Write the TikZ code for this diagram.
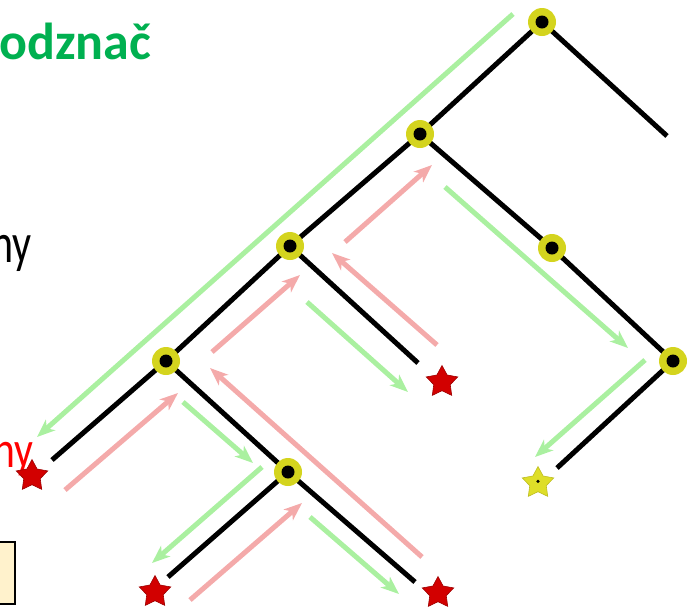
\documentclass[tikz,border=0pt]{standalone}
\usepackage{fontspec}
\setmainfont{Carlito}
\usetikzlibrary{shapes.geometric,arrows.meta}
\definecolor{txtgreen}{RGB}{0,176,80}
\definecolor{argreen}{RGB}{170,240,160}
\definecolor{arpink}{RGB}{244,170,170}
\definecolor{halo}{RGB}{212,212,30}
\definecolor{starred}{RGB}{210,0,0}
\definecolor{staryel}{RGB}{222,222,40}
\definecolor{boxfill}{RGB}{255,242,204}
\begin{document}
\begin{tikzpicture}[x=1pt,y=-1pt,
  tnode/.style={circle, fill=halo, minimum size=28pt, inner sep=0pt,
    path picture={\fill[black] (path picture bounding box.center) circle (6.5pt);}},
  redleaf/.style={star, star points=5, star point ratio=1.9, fill=starred,
    draw=starred!75!black, line width=0.6pt, minimum size=33pt, inner sep=0pt},
  yelleaf/.style={star, star points=5, star point ratio=1.9, fill=staryel,
    draw=staryel!85!black, line width=0.6pt, minimum size=33pt, inner sep=0pt,
    path picture={\fill[black] (path picture bounding box.center) circle (1.8pt);}},
  edge/.style={line width=5pt, black},
  garrow/.style={line width=5pt, argreen, -{Stealth[length=18pt,width=14pt,inset=5pt]}},
  parrow/.style={line width=5pt, arpink, -{Stealth[length=18pt,width=14pt,inset=5pt]}},
  label/.style={inner sep=0pt}
]
\useasboundingbox (0,0) rectangle (687,606);
\clip (0,0) rectangle (687,606);

% texts
\node[label, anchor=base west, text=txtgreen, font=\fontsize{52}{60}\selectfont\bfseries] (t1) at (-1,59) {odznač};
\node[label, anchor=base east, font=\fontsize{56}{64}\selectfont] (t2) at (32,262) {\scalebox{0.75}[1]{ny}};
\node[label, anchor=base east, text=red, font=\fontsize{52}{60}\selectfont] (t3) at (34,467) {\scalebox{0.8}[1]{ny}};
\node[draw=black, fill=boxfill, line width=1.3pt, minimum width=40pt, minimum height=62pt, inner sep=0pt] (box) at (-5,573) {};

% tree positions
\coordinate (Ap) at (542,22);
\coordinate (Bp) at (420,134);
\coordinate (Cp) at (290,246);
\coordinate (Dp) at (552,248);
\coordinate (Ep) at (166,361);
\coordinate (Fp) at (673,361);
\coordinate (Gp) at (288,472);
\coordinate (Aend) at (667,136);
\coordinate (Cend) at (418,363);
\coordinate (Eend) at (52,460);
\coordinate (G1end) at (168,577);
\coordinate (G2end) at (415,582);
\coordinate (Fend) at (557,468);

% edges
\draw[edge] (Ap) -- (Bp);
\draw[edge] (Ap) -- (Aend);
\draw[edge] (Bp) -- (Cp);
\draw[edge] (Bp) -- (Dp);
\draw[edge] (Cp) -- (Ep);
\draw[edge] (Cp) -- (Cend);
\draw[edge] (Ep) -- (Eend);
\draw[edge] (Ep) -- (Gp);
\draw[edge] (Gp) -- (G1end);
\draw[edge] (Gp) -- (G2end);
\draw[edge] (Dp) -- (Fp);
\draw[edge] (Fp) -- (Fend);

% nodes
\node[tnode] (A) at (Ap) {};
\node[tnode] (B) at (Bp) {};
\node[tnode] (C) at (Cp) {};
\node[tnode] (D) at (Dp) {};
\node[tnode] (E) at (Ep) {};
\node[tnode] (F) at (Fp) {};
\node[tnode] (G) at (Gp) {};
\node[redleaf] (Cs) at (442,382) {};
\node[redleaf] (Es) at (32,476) {};
\node[redleaf] (Gs1) at (155,592) {};
\node[redleaf] (Gs2) at (438,593) {};
\node[yelleaf] (Fs) at (538,483) {};

% green arrows
\coordinate (g1a) at (513,14);  \coordinate (g1b) at (37,437);
\coordinate (g2a) at (445,187); \coordinate (g2b) at (628,348);
\coordinate (g3a) at (645,360); \coordinate (g3b) at (535,457);
\coordinate (g4a) at (307,302); \coordinate (g4b) at (408,392);
\coordinate (g5a) at (183,402); \coordinate (g5b) at (253,463);
\coordinate (g6a) at (262,467); \coordinate (g6b) at (152,563);
\coordinate (g7a) at (310,517); \coordinate (g7b) at (399,594);
\draw[garrow] (g1a) -- (g1b);
\draw[garrow] (g2a) -- (g2b);
\draw[garrow] (g3a) -- (g3b);
\draw[garrow] (g4a) -- (g4b);
\draw[garrow] (g5a) -- (g5b);
\draw[garrow] (g6a) -- (g6b);
\draw[garrow] (g7a) -- (g7b);

% pink arrows
\coordinate (r1a) at (65,490);  \coordinate (r1b) at (178,393);
\coordinate (r2a) at (212,352); \coordinate (r2b) at (300,275);
\coordinate (r3a) at (345,242); \coordinate (r3b) at (432,165);
\coordinate (r4a) at (437,345); \coordinate (r4b) at (332,253);
\coordinate (r5a) at (422,557); \coordinate (r5b) at (210,368);
\coordinate (r6a) at (190,600); \coordinate (r6b) at (302,503);
\draw[parrow] (r1a) -- (r1b);
\draw[parrow] (r2a) -- (r2b);
\draw[parrow] (r3a) -- (r3b);
\draw[parrow] (r4a) -- (r4b);
\draw[parrow] (r5a) -- (r5b);
\draw[parrow] (r6a) -- (r6b);
\end{tikzpicture}
\end{document}
